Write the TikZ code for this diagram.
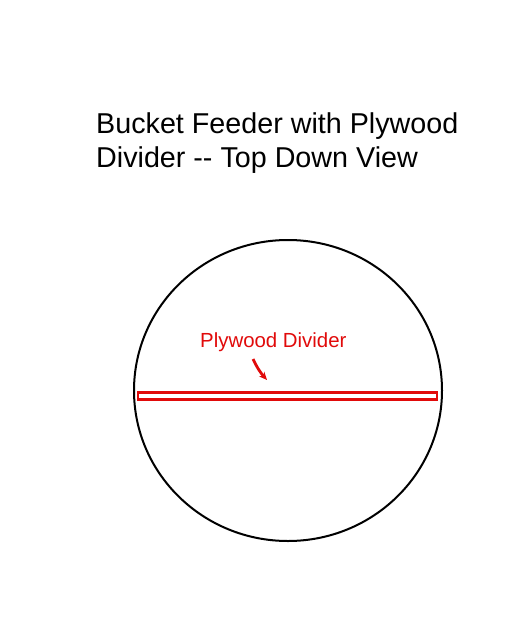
\documentclass[tikz,border=0pt]{standalone}
\usepackage{fontspec}
\setmainfont{Liberation Sans}
\usetikzlibrary{arrows.meta}
\definecolor{divred}{RGB}{225,10,10}
\tikzset{
  titletext/.style={anchor=base west, inner sep=0pt, font=\fontsize{28.7}{34}\selectfont},
  redlabel/.style={anchor=base west, inner sep=0pt, text=divred, font=\fontsize{20.4}{24}\selectfont},
  pointer/.style={draw=divred, line width=2.8pt, -{Stealth[length=8pt,width=7pt]}},
}
\begin{document}
\begin{tikzpicture}[x=1pt,y=-1pt]
\useasboundingbox (0,0) rectangle (512,640);
\fill[white] (0,0) rectangle (512,640);
\node[titletext] (title1) at (96,133) {Bucket Feeder with Plywood};
\node[titletext] (title2) at (96,167) {Divider -{}- Top Down View};
\draw[line width=2pt] (288,390.5) ellipse [x radius=154, y radius=150.5];
\node[draw=divred, line width=2.6pt, minimum width=299pt, minimum height=6.5pt, inner sep=0pt] (divider) at (287.5,396) {};
\node[redlabel] (label) at (200,347) {Plywood Divider};
\coordinate (tail) at (253,359);
\coordinate (head) at (267,380);
\draw[pointer] (tail) to[bend right=8] (head);
\end{tikzpicture}
\end{document}
